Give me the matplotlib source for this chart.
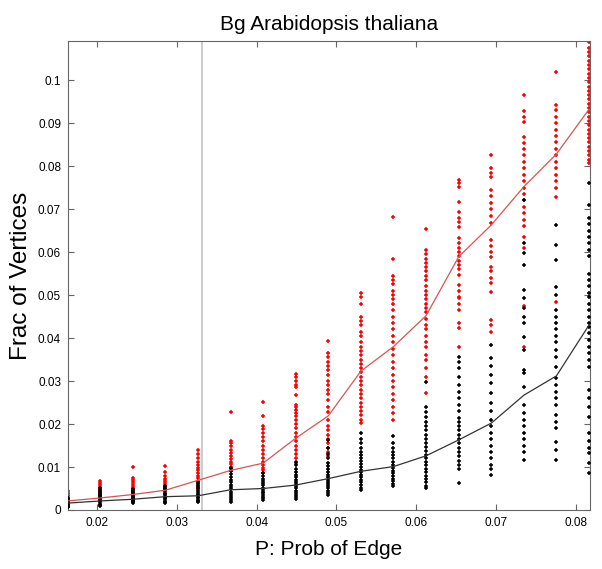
import numpy as np
import matplotlib
matplotlib.use("Agg")
import matplotlib.pyplot as plt

plt.rcParams['font.family'] = ['Liberation Sans', 'DejaVu Sans']

# edge probability of each column
p_vals = [0.01633, 0.02041, 0.02449, 0.02857, 0.03265, 0.03673, 0.04082, 0.04490,
          0.04898, 0.05306, 0.05714, 0.06122, 0.06531, 0.06939, 0.07347, 0.07755, 0.08163]

# fraction of vertices, in units of 1e-3
red_pts = [
    [4.4, 4.0, 3.6, 3.2, 2.8, 2.5, 2.2, 2.0, 1.8, 1.5, 1.2],
    [6.7, 6.3, 5.8, 5.3, 4.9, 4.5, 4.2, 3.9, 3.6, 3.3, 3.0, 2.6, 2.2],
    [10.1, 7.4, 6.9, 6.4, 6.0, 5.6, 5.2, 4.8, 4.5, 4.2, 3.9, 3.6],
    [10.3, 8.9, 8.0, 7.3, 6.7, 6.2, 5.8, 5.4, 5.0, 4.6],
    [14.0, 13.0, 12.0, 11.2, 10.5, 9.8, 9.2, 8.6, 8.0, 7.4, 6.8, 6.2, 5.6, 5.0],
    [22.7, 16.1, 15.5, 14.8, 14.0, 13.2, 12.5, 11.8, 11.2, 10.6, 10.0, 9.5, 9.0],
    [25.2, 21.9, 19.5, 18.8, 18.0, 17.0, 16.0, 15.0, 14.0, 13.0, 12.0, 11.2, 10.5, 9.8, 9.2, 8.6],
    [31.6, 31.0, 30.0, 29.0, 28.5, 26.7, 24.5, 24.0, 23.2, 22.5, 21.8, 21.0, 20.0, 19.0,
     18.0, 17.0, 16.0, 15.0, 14.0, 13.0, 12.0, 11.0],
    [39.4, 36.5, 35.5, 34.5, 33.5, 32.5, 31.5, 30.0, 29.0, 28.0, 27.0, 25.5, 24.0, 22.8,
     21.0, 19.5, 18.5, 17.5, 16.5, 15.5, 14.5, 13.5, 12.5],
    [50.5, 49.5, 48.0, 45.0, 44.0, 43.0, 41.5, 40.5, 39.0, 38.0, 37.0, 36.0, 35.0, 34.0,
     33.0, 32.0, 31.0, 30.0, 29.0, 28.0, 27.0, 26.0, 25.0, 24.0, 23.0, 22.0, 21.0, 20.2],
    [68.2, 58.5, 54.4, 53.5, 52.5, 51.0, 50.0, 49.0, 48.0, 46.5, 45.0, 43.5, 42.0, 40.5,
     39.0, 37.5, 36.0, 34.5, 33.0, 31.5, 30.0, 28.5, 27.0, 25.5, 24.0, 22.5, 20.9],
    [65.3, 60.5, 59.5, 58.5, 57.5, 56.5, 55.5, 54.5, 53.5, 52.0, 51.0, 50.0, 49.0, 48.0,
     47.0, 46.0, 44.5, 43.0, 42.0, 40.5, 39.0, 38.0, 36.0, 35.0, 33.0, 31.0, 27.1],
    [76.7, 76.1, 75.2, 71.6, 69.4, 68.0, 66.9, 65.9, 63.2, 62.0, 61.0, 60.0, 59.0, 58.0,
     57.0, 56.0, 54.7, 52.3, 51.0, 49.6, 49.3, 48.0, 46.5, 43.5, 42.3, 38.0],
    [82.6, 79.5, 78.5, 77.5, 74.4, 73.0, 71.5, 70.0, 68.5, 66.7, 62.8, 61.5, 60.0, 58.9,
     56.6, 55.5, 54.0, 52.7, 50.8, 44.2, 43.0, 41.5],
    [96.5, 92.8, 91.5, 90.3, 86.8, 85.3, 84.0, 82.5, 81.0, 79.5, 78.0, 76.5, 75.0, 73.5,
     72.0, 70.5, 69.0, 67.5, 66.0, 63.6, 60.9, 47.5, 38.0],
    [101.8, 94.2, 93.0, 91.5, 90.0, 88.5, 87.0, 85.5, 84.0, 82.5, 81.0, 79.5, 78.0, 76.5,
     75.0, 72.9, 48.4],
    [108.8, 107.5, 106.5, 105.5, 104.5, 103.5, 102.5, 101.5, 100.5, 99.5, 98.5, 97.5, 96.5,
     95.5, 94.5, 93.5, 92.5, 91.5, 90.5, 89.5, 88.5, 87.5, 86.5, 85.5, 84.5, 83.5, 82.5,
     81.5, 80.6],
]

black_pts = [
    [2.8, 2.5, 2.2, 2.0, 1.8, 1.6, 1.4, 1.2, 1.0, 0.8, 0.6],
    [5.0, 4.6, 4.2, 3.8, 3.5, 3.2, 2.9, 2.6, 2.3, 2.0, 1.8, 1.5, 1.2, 0.9],
    [4.9, 4.5, 4.2, 3.9, 3.6, 3.3, 3.0, 2.8, 2.6, 2.4, 2.2, 2.0, 1.8, 1.6],
    [5.6, 5.2, 4.8, 4.4, 4.0, 3.7, 3.4, 3.1, 2.8, 2.5, 2.2, 1.9, 1.6],
    [6.6, 6.0, 5.5, 5.0, 4.6, 4.2, 3.8, 3.4, 3.0, 2.7, 2.4, 2.1, 1.9],
    [9.7, 9.0, 8.3, 7.6, 7.0, 6.4, 5.8, 5.3, 4.8, 4.3, 3.8, 3.3, 2.8, 2.3, 1.8],
    [8.5, 7.9, 7.3, 6.7, 6.2, 5.7, 5.2, 4.7, 4.3, 3.9, 3.5, 3.1, 2.7, 2.3],
    [11.2, 10.4, 9.6, 8.9, 8.2, 7.6, 7.0, 6.5, 6.0, 5.5, 5.0, 4.5, 4.0, 3.5, 3.0, 2.6],
    [16.3, 14.5, 13.0, 12.0, 11.0, 10.2, 9.5, 8.8, 8.2, 7.6, 7.0, 6.5, 6.0, 5.5, 5.0,
     4.5, 4.0, 3.5],
    [17.8, 16.5, 15.5, 14.5, 13.5, 12.8, 12.0, 11.3, 10.6, 10.0, 9.4, 8.8, 8.2, 7.6, 7.0,
     6.4, 5.8, 5.2, 4.7],
    [17.1, 15.5, 14.5, 13.6, 12.8, 12.0, 11.2, 10.5, 9.8, 9.1, 8.5, 7.9, 7.3, 6.7, 6.1, 5.5],
    [29.8, 24.0, 22.8, 21.6, 20.5, 19.5, 18.5, 17.5, 16.5, 15.5, 14.6, 13.7, 12.8, 12.0,
     11.2, 10.4, 9.6, 8.8, 8.0, 7.2, 6.4, 5.6, 5.0],
    [35.7, 34.5, 33.0, 31.0, 29.0, 27.5, 26.0, 24.5, 23.0, 21.5, 20.5, 19.5, 18.5, 17.5,
     16.5, 15.5, 14.5, 13.5, 12.5, 11.5, 10.5, 9.5, 6.2],
    [38.4, 35.3, 33.5, 31.5, 29.5, 27.2, 24.9, 23.0, 21.0, 19.5, 18.0, 16.5, 15.0, 13.5,
     12.0, 10.5, 9.5, 8.1],
    [72.1, 62.0, 59.7, 57.0, 51.2, 49.2, 47.0, 45.0, 43.5, 40.3, 37.2, 32.6, 31.9, 28.7,
     24.4, 22.5, 21.0, 19.5, 18.0, 16.5, 15.0, 13.5, 11.6],
    [66.4, 61.6, 58.1, 51.9, 50.0, 46.5, 45.0, 43.5, 42.0, 40.5, 39.1, 37.2, 35.5, 33.3,
     30.7, 29.0, 27.5, 26.0, 24.4, 22.1, 20.5, 19.0, 15.9, 14.0, 11.6],
    [76.0, 70.9, 68.0, 66.5, 65.0, 63.5, 62.0, 60.5, 59.0, 55.0, 53.5, 52.0, 50.5, 49.5,
     48.0, 46.5, 45.0, 43.5, 42.6, 41.1, 39.5, 38.0, 36.5, 35.0, 33.3, 27.9, 26.0, 24.0,
     21.6, 17.8, 16.0, 14.5, 13.2, 10.9, 8.6],
]

# line through each column (units of 1e-3)
red_line = [2.1, 2.8, 3.6, 4.6, 6.9, 9.2, 10.9, 16.7, 21.9, 32.3, 38.0, 45.2,
            58.9, 66.3, 75.2, 82.8, 93.2]
black_line = [1.6, 2.1, 2.5, 3.1, 3.3, 4.7, 5.0, 5.8, 7.3, 9.0, 10.1, 12.6,
              16.3, 20.2, 26.7, 31.2, 43.0]

p_cut = 0.0331

fig = plt.figure(figsize=(6.02, 5.69), dpi=100)
ax = fig.add_axes([0.113, 0.1037, 0.867, 0.8243])

ax.axvline(p_cut, color='#c8c8c8', lw=1.3, zorder=1)

for x, ys in zip(p_vals, red_pts):
    ax.plot([x] * len(ys), np.array(ys) / 1000, '+', color='#ff0000', ms=3.3, mew=1.1, zorder=2)
for x, ys in zip(p_vals, black_pts):
    ax.plot([x] * len(ys), np.array(ys) / 1000, '+', color='black', ms=3.3, mew=1.1, zorder=3)

ax.plot(p_vals, np.array(red_line) / 1000, color='#d9534f', lw=0.9, zorder=4)
ax.plot(p_vals, np.array(black_line) / 1000, color='#333333', lw=0.9, zorder=4)

ax.set_xlim(0.01638, 0.08175)
ax.set_ylim(0, 0.1091)
ax.set_xticks([0.02, 0.03, 0.04, 0.05, 0.06, 0.07, 0.08])
ax.set_xticklabels(['0.02', '0.03', '0.04', '0.05', '0.06', '0.07', '0.08'])
ax.set_yticks([0, 0.01, 0.02, 0.03, 0.04, 0.05, 0.06, 0.07, 0.08, 0.09, 0.1])
ax.set_yticklabels(['0', '0.01', '0.02', '0.03', '0.04', '0.05', '0.06', '0.07', '0.08', '0.09', '0.1'])
ax.tick_params(direction='in', top=True, right=True, length=4, width=0.8,
               color='#666666', labelsize=8.5, pad=5)
for s in ax.spines.values():
    s.set_color('#666666')
    s.set_linewidth(0.8)

ax.set_title('Bg Arabidopsis thaliana', fontsize=15, pad=8)
ax.set_xlabel('P: Prob of Edge', fontsize=15, labelpad=8)
ax.set_ylabel('Frac of Vertices', fontsize=17.5, labelpad=4)

fig.savefig('out.png', dpi=100)
